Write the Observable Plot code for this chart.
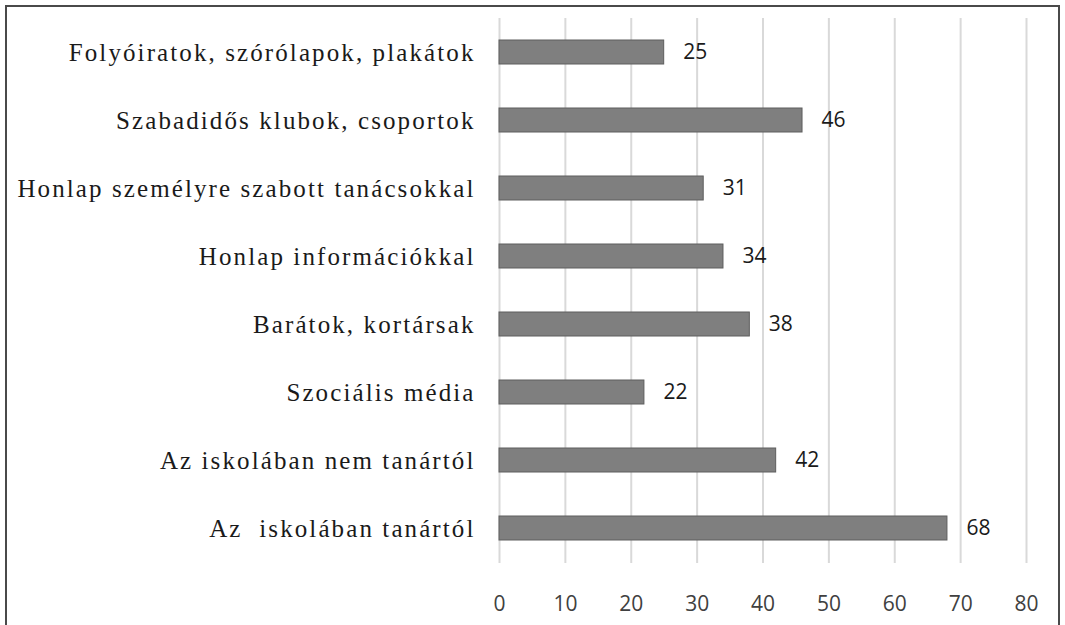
<!DOCTYPE html>
<html>
<head>
<meta charset="utf-8">
<script src="https://cdn.jsdelivr.net/npm/d3@7"></script>
<script src="https://cdn.jsdelivr.net/npm/@observablehq/plot@0.6"></script>
<style>
  html, body { margin: 0; padding: 0; background: #fff; }
  #wrap { position: relative; width: 1065px; height: 625px; overflow: hidden; }
  #frame { position: absolute; left: 5px; top: 5px; width: 1055px; height: 630px; border: 2px solid #4a4a4a; box-sizing: border-box; }
  #chart { position: absolute; left: 0; top: 0; }
  #chart svg g[aria-label="y-axis tick label"] text { letter-spacing: 2.1px; }
</style>
</head>
<body>
<div id="wrap">
  <div id="frame"></div>
  <div id="chart"></div>
</div>
<script>
const categories = [
  "Folyóiratok, szórólapok, plakátok",
  "Szabadidős klubok, csoportok",
  "Honlap személyre szabott tanácsokkal",
  "Honlap információkkal",
  "Barátok, kortársak",
  "Szociális média",
  "Az iskolában nem tanártól",
  "Az  iskolában tanártól"
];
const values = [25, 46, 31, 34, 38, 22, 42, 68];
const xTicks = [0, 10, 20, 30, 40, 50, 60, 70, 80];

const data = categories.map((c, i) => ({category: c, value: values[i]}));

const chart = Plot.plot({
  width: 1065,
  height: 625,
  marginTop: 18,
  marginBottom: 62,
  marginLeft: 499,
  marginRight: 39,
  style: {background: "transparent", overflow: "visible"},
  x: {domain: [0, 80]},
  y: {domain: categories, paddingInner: 0.64, paddingOuter: 0.32},
  marks: [
    Plot.ruleX(xTicks, {stroke: "#d9d9d9", strokeWidth: 2}),
    Plot.barX(data, {x: "value", y: "category", fill: "#7f7f7f", stroke: "#5e5e5e", strokeWidth: 1}),
    Plot.text(data, {x: "value", y: "category", text: d => String(d.value), dx: 19, textAnchor: "start",
      fontSize: 21, fill: "#1a1a1a", fontFamily: "'Open Sans', sans-serif"}),
    Plot.axisX({ticks: xTicks, tickSize: 0, tickPadding: 33, fontSize: 21, fill: "#404040",
      fontFamily: "'Open Sans', sans-serif", label: null}),
    Plot.axisY({tickSize: 0, tickPadding: 24, fontSize: 25, fill: "#1a1a1a",
      fontFamily: "'Liberation Serif', serif", label: null})
  ]
});
document.getElementById("chart").appendChild(chart);
</script>
</body>
</html>
